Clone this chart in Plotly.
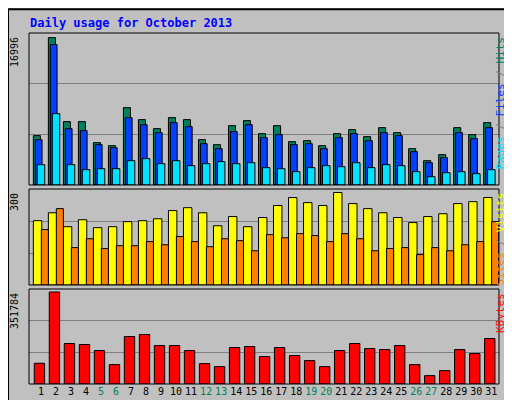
import plotly.graph_objects as go

days = list(range(1, 32))
weekend = [5, 6, 12, 13, 19, 20, 26, 27]

hits = [5691, 16996, 7306, 7306, 4883, 4537, 8920, 7536, 6498, 7767, 7536, 5229, 4652, 6844, 7421, 5921,
        6844, 4999, 5114, 4537, 5921, 6383, 5575, 6613, 6037, 4191, 2807, 3499, 6613, 5806, 7190]
files = [5229, 16187, 6498, 6267, 4652, 4306, 7767, 6959, 6037, 7190, 6729, 4768, 4191, 6152, 6959, 5460,
         5806, 4652, 4768, 4191, 5460, 5921, 5114, 6037, 5691, 3845, 2576, 3153, 6037, 5345, 6613]
pages = [2345, 8228, 2345, 1769, 1884, 1884, 2807, 3038, 2461, 2807, 2230, 2461, 2692, 2461, 2576, 1999,
         1884, 1538, 1999, 2230, 2115, 2576, 1999, 2345, 2230, 1538, 961, 1423, 1538, 1307, 1769]
sites = [203, 228, 184, 206, 181, 184, 200, 203, 209, 235, 244, 228, 187, 216, 184, 213,
         251, 276, 260, 251, 292, 257, 241, 228, 213, 197, 216, 225, 257, 263, 276]
visits = [175, 241, 118, 146, 115, 124, 124, 137, 127, 153, 137, 121, 146, 140, 108, 159,
          149, 162, 156, 137, 162, 146, 108, 115, 118, 96, 118, 108, 127, 137, 200]
kbytes = [79298, 351784, 154759, 150922, 127900, 74182, 181618, 189292, 147085, 147085, 127900, 78019,
          66508, 139411, 143248, 104878, 139411, 108715, 89530, 66508, 127900, 154759, 135574, 131737,
          147085, 74182, 31975, 51160, 131737, 116389, 173944]

BG = "#c0c0c0"
MONO = "DejaVu Sans Mono"
line = dict(color="black", width=1)

fig = go.Figure()
def bar(y, color, yax, off, w):
    fig.add_trace(go.Bar(x=days, y=y, yaxis=yax, marker=dict(color=color, line=line),
                         offset=off, width=w, hoverinfo="skip"))

bar(hits, "#00805c", "y", -0.51, 0.47)
bar(files, "#0040ff", "y", -0.38, 0.45)
bar(pages, "#00e0ff", "y", -0.25, 0.5)
bar(sites, "#ffff00", "y2", -0.51, 0.56)
bar(visits, "#ff8000", "y2", 0.02, 0.47)
bar(kbytes, "#ff0000", "y3", -0.45, 0.69)

top1 = max(hits) * 152 / 147.4
top2 = 303
top3 = max(kbytes) * 94.7 / 91.7

def yax(dom, top):
    return dict(domain=dom, range=[0, top], tickvals=[top / 3, 2 * top / 3], showticklabels=False,
                gridcolor="#808080", gridwidth=1, zeroline=False, ticks="", fixedrange=True)

ticktext = [f'<span style="color:#00805c">{d}</span>' if d in weekend else str(d) for d in days]

fig.update_layout(
    width=512, height=400, margin=dict(l=21, r=21, t=0, b=0),
    paper_bgcolor=BG, plot_bgcolor=BG, showlegend=False, barmode="overlay",
    xaxis=dict(range=[0.2, 31.51], anchor="y3", tickvals=days, ticktext=ticktext, showgrid=False,
               zeroline=False, tickfont=dict(family=MONO, size=10, color="black"), ticks="", fixedrange=True),
    yaxis=yax([0.5575, 0.9375], top1),
    yaxis2=yax([0.3075, 0.5475], top2),
    yaxis3=yax([0.06, 0.2975], top3),
)

# panel frames
for y0, y1 in [(25, 177), (181, 277), (281, 376)]:
    fig.add_shape(type="rect", xref="paper", yref="paper", x0=0, x1=1,
                  y0=1 - y1 / 400, y1=1 - y0 / 400, line=dict(color="black", width=1))
# outer frame
fig.add_shape(type="rect", xref="paper", yref="paper", x0=-21 / 470, x1=1 + 20 / 470,
              y0=0.003, y1=0.997, line=dict(color="black", width=2))

fig.add_annotation(text="<b>Daily usage for October 2013</b>", xref="paper", yref="paper",
                   x=-1 / 470, y=1 - 15 / 400, xanchor="left", yanchor="middle", showarrow=False,
                   font=dict(family=MONO, size=12, color="#0000ff"))
for txt, ypx in [(str(max(hits)), 25), ("300", 181), (str(max(kbytes)), 281)]:
    fig.add_annotation(text=txt, xref="paper", yref="paper", x=-15 / 470, y=1 - (ypx + 2) / 400,
                       xanchor="center", yanchor="top", textangle=-90, showarrow=False,
                       font=dict(family=MONO, size=10, color="black"))

right = [
    ('<span style="color:#00e0ff">Pages</span> / <span style="color:#0040ff">Files</span> / '
     '<span style="color:#00805c">Hits</span>', 25),
    ('<span style="color:#ff8000">Sites</span> / <span style="color:#ffff00">Visits</span>', 181),
    ('<span style="color:#ff0000">KBytes</span>', 281),
]
for txt, ypx in right:
    fig.add_annotation(text=txt, xref="paper", yref="paper", x=1 + 1 / 470, y=1 - (ypx + 2) / 400,
                       xanchor="center", yanchor="top", textangle=-90, showarrow=False,
                       font=dict(family=MONO, size=11, color="gray"))

fig.write_html("out.html")
